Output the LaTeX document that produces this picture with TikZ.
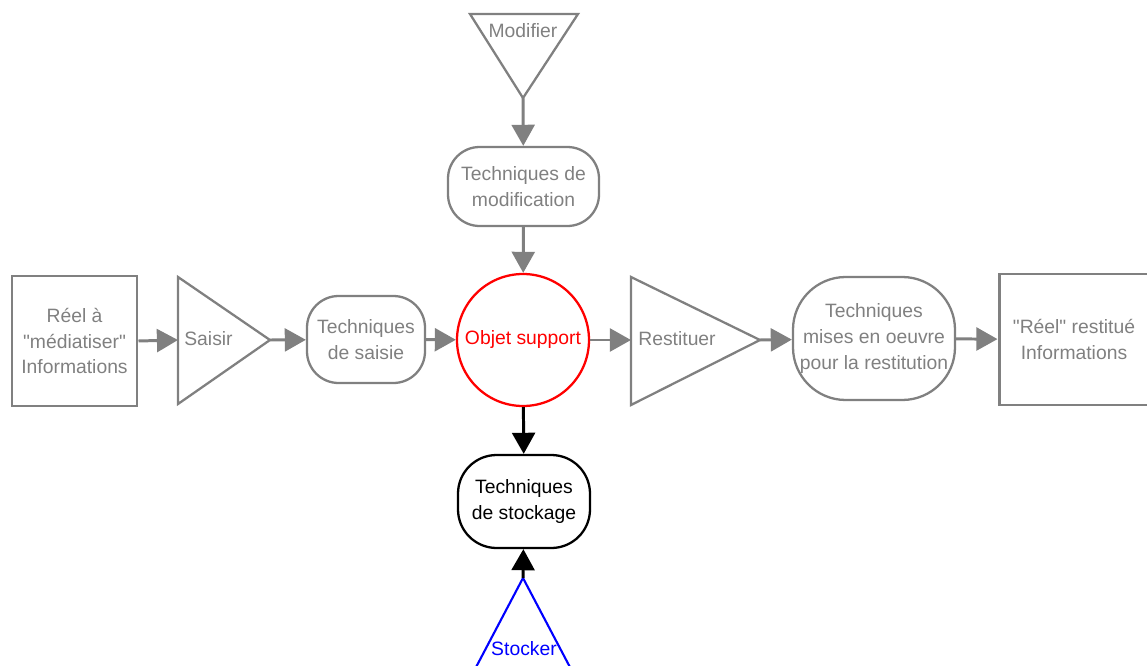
\documentclass[tikz,border=0pt]{standalone}
\usepackage{fontspec}
\setmainfont{Liberation Sans}
\usetikzlibrary{arrows.meta,positioning}

\begin{document}
\begin{tikzpicture}[
    x=0.02cm, y=-0.02cm,
    txt/.style={font=\fontsize{11}{14.7}\selectfont, align=center, text=gray, inner sep=0pt},
    tbox/.style={txt, draw=gray, line width=1.3pt, rounded corners=18pt},
    rbox/.style={txt, draw=gray, line width=1.7pt},
    tri/.style={draw=gray, line width=1.3pt, line join=miter},
    flow/.style={draw=gray, line width=1.7pt, -{Triangle[length=12pt,width=13pt]}}
]
\def\px{0.02cm}
\useasboundingbox (0,0) rectangle (1147,666);

% centre
\node[circle, draw=red, line width=1.3pt, minimum size=132*\px, inner sep=0pt,
  font=\fontsize{11}{14.7}\selectfont, text=red] (objet) at (523,340) {Objet support};

% top branch
\draw[tri] (470,14) -- (578,14) -- (523,98) -- cycle;
\coordinate (modA) at (523,98);
\node[txt] (modifier) at (523,31) {Modifier};
\node[tbox, minimum width=151*\px, minimum height=79*\px] (modif) at (523.5,186.5)
  {Techniques de\\modification};

% left branch
\node[rbox, minimum width=125*\px, minimum height=130*\px] (reel) at (74.5,341)
  {R\'eel \`a\\\textquotedbl m\'ediatiser\textquotedbl\\Informations};
\draw[tri] (178,277) -- (178,404) -- (270,340) -- cycle;
\coordinate (saisirL) at (178,340);
\coordinate (saisirA) at (270,340);
\node[txt, anchor=west] (saisir) at (184,339) {Saisir};
\node[tbox, minimum width=118*\px, minimum height=87*\px] (saisie) at (366,339.5)
  {Techniques\\de saisie};

% right branch
\draw[tri] (631,277) -- (631,405) -- (760,340) -- cycle;
\coordinate (restL) at (631,340);
\coordinate (restA) at (760,340);
\node[txt, anchor=west] (restituer) at (638,339) {Restituer};
\node[tbox, rounded corners=30pt, minimum width=162*\px, minimum height=123*\px]
  (restit) at (874,338.5) {Techniques\\mises en oeuvre\\pour la restitution};
\node[rbox, minimum width=150*\px, minimum height=131*\px] (reelR) at (1074,339.5)
  {\textquotedbl R\'eel\textquotedbl\ restitu\'e\\Informations};

% bottom branch
\node[tbox, draw=black, text=black, rounded corners=22pt, minimum width=132*\px,
  minimum height=93*\px] (stock) at (524,501.5) {Techniques\\de stockage};
\draw[tri, draw=blue, line width=1.2pt] (464,690) -- (523,578) -- (582,690);
\coordinate (stockA) at (523,578);
\node[txt, text=blue] (stocker) at (524,649) {Stocker};

% connectors
\draw[flow] (modA) -- (modif);
\draw[flow] (modif) -- (objet);
\draw[flow] (reel.east) -- (saisirL);
\draw[flow] (saisirA) -- (saisie);
\draw[flow] (saisie) -- (objet);
\draw[flow] (objet) -- (restL);
\draw[flow] (restA) -- (restit);
\draw[flow] (restit) -- (reelR);
\draw[flow, draw=black] (objet) -- (stock);
\draw[flow, draw=black] (stockA) -- (stock);

\end{tikzpicture}
\end{document}
